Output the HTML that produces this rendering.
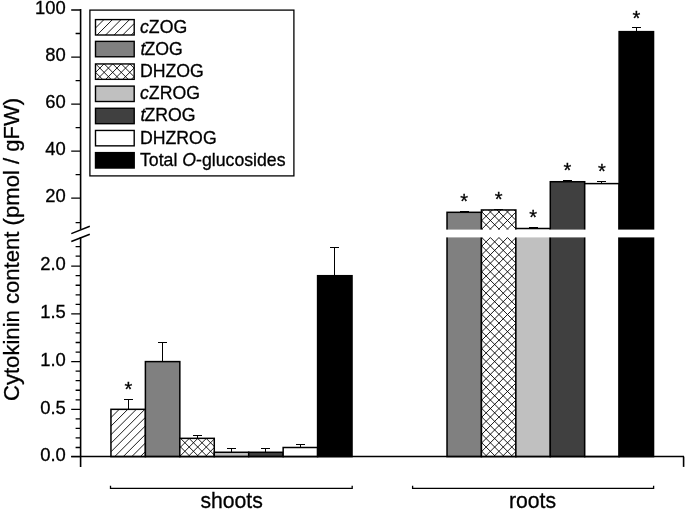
<!DOCTYPE html>
<html><head><meta charset="utf-8"><title>chart</title>
<style>html,body{margin:0;padding:0;background:#fff}svg{display:block;will-change:transform}text{font-family:"Liberation Sans",sans-serif;fill:#000;stroke:#000;stroke-width:0.3px}</style></head>
<body>
<svg width="685" height="510" viewBox="0 0 685 510">
<defs>
</defs>
<rect width="685" height="510" fill="#fff"/>
<path d="M128.50,409.32 V399.50 M124.00,399.50 H133.00" stroke="#000" stroke-width="1" fill="none"/>
<rect x="110.95" y="409.32" width="34.44" height="47.28" fill="#ffffff" stroke="none"/>
<clipPath id="c1"><rect x="110.95" y="409.32" width="34.44" height="47.28"/></clipPath>
<path d="M110.95,417.60 L145.39,383.16 M110.95,426.15 L145.39,391.71 M110.95,434.70 L145.39,400.26 M110.95,443.25 L145.39,408.81 M110.95,451.80 L145.39,417.36 M110.95,460.35 L145.39,425.91 M110.95,468.90 L145.39,434.46 M110.95,477.45 L145.39,443.01 M110.95,486.00 L145.39,451.56 " stroke="#000" stroke-width="0.9" fill="none" clip-path="url(#c1)"/>
<rect x="110.95" y="409.32" width="34.44" height="47.28" fill="none" stroke="#000" stroke-width="1.5"/>
<path d="M162.50,361.60 V342.50 M158.00,342.50 H167.00" stroke="#000" stroke-width="1" fill="none"/>
<rect x="145.39" y="361.60" width="34.44" height="95.00" fill="#808080" stroke="none"/>
<rect x="145.39" y="361.60" width="34.44" height="95.00" fill="none" stroke="#000" stroke-width="1.5"/>
<path d="M197.50,438.34 V435.50 M193.00,435.50 H202.00" stroke="#000" stroke-width="1" fill="none"/>
<rect x="179.83" y="438.34" width="34.44" height="18.26" fill="#ffffff" stroke="none"/>
<clipPath id="c2"><rect x="179.83" y="438.34" width="34.44" height="18.26"/></clipPath>
<path d="M179.83,439.26 L214.27,404.82 M179.83,447.81 L214.27,413.37 M179.83,456.36 L214.27,421.92 M179.83,464.91 L214.27,430.47 M179.83,473.46 L214.27,439.02 M179.83,482.01 L214.27,447.57 M179.83,490.56 L214.27,456.12 M179.83,454.77 L214.27,489.21 M179.83,446.22 L214.27,480.66 M179.83,437.67 L214.27,472.11 M179.83,429.12 L214.27,463.56 M179.83,420.57 L214.27,455.01 M179.83,412.02 L214.27,446.46 " stroke="#000" stroke-width="0.9" fill="none" clip-path="url(#c2)"/>
<rect x="179.83" y="438.34" width="34.44" height="18.26" fill="none" stroke="#000" stroke-width="1.5"/>
<path d="M231.50,452.28 V448.50 M227.00,448.50 H236.00" stroke="#000" stroke-width="1" fill="none"/>
<rect x="214.27" y="452.28" width="34.44" height="4.32" fill="#c0c0c0" stroke="none"/>
<rect x="214.27" y="452.28" width="34.44" height="4.32" fill="none" stroke="#000" stroke-width="1.5"/>
<path d="M265.50,452.28 V448.50 M261.00,448.50 H270.00" stroke="#000" stroke-width="1" fill="none"/>
<rect x="248.71" y="452.28" width="34.44" height="4.32" fill="#404040" stroke="none"/>
<rect x="248.71" y="452.28" width="34.44" height="4.32" fill="none" stroke="#000" stroke-width="1.5"/>
<path d="M300.50,447.50 V444.50 M296.00,444.50 H305.00" stroke="#000" stroke-width="1" fill="none"/>
<rect x="283.15" y="447.50" width="34.44" height="9.10" fill="#ffffff" stroke="none"/>
<rect x="283.15" y="447.50" width="34.44" height="9.10" fill="none" stroke="#000" stroke-width="1.5"/>
<path d="M334.50,275.70 V247.50 M330.00,247.50 H339.00" stroke="#000" stroke-width="1" fill="none"/>
<rect x="317.59" y="275.70" width="34.44" height="180.90" fill="#000000" stroke="none"/>
<rect x="317.59" y="275.70" width="34.44" height="180.90" fill="none" stroke="#000" stroke-width="1.5"/>
<path d="M464.50,212.31 V211.50 M460.00,211.50 H469.00" stroke="#000" stroke-width="1" fill="none"/>
<rect x="447.02" y="212.31" width="34.42" height="244.29" fill="#808080" stroke="none"/>
<rect x="447.02" y="212.31" width="34.42" height="244.29" fill="none" stroke="#000" stroke-width="1.5"/>
<path d="M498.50,209.96 V209.50 M494.00,209.50 H503.00" stroke="#000" stroke-width="1" fill="none"/>
<rect x="481.44" y="209.96" width="34.42" height="246.64" fill="#ffffff" stroke="none"/>
<clipPath id="c3"><rect x="481.44" y="209.96" width="34.42" height="246.64"/></clipPath>
<path d="M481.44,212.31 L515.86,177.89 M481.44,220.86 L515.86,186.44 M481.44,229.41 L515.86,194.99 M481.44,237.96 L515.86,203.54 M481.44,246.51 L515.86,212.09 M481.44,255.06 L515.86,220.64 M481.44,263.61 L515.86,229.19 M481.44,272.16 L515.86,237.74 M481.44,280.71 L515.86,246.29 M481.44,289.26 L515.86,254.84 M481.44,297.81 L515.86,263.39 M481.44,306.36 L515.86,271.94 M481.44,314.91 L515.86,280.49 M481.44,323.46 L515.86,289.04 M481.44,332.01 L515.86,297.59 M481.44,340.56 L515.86,306.14 M481.44,349.11 L515.86,314.69 M481.44,357.66 L515.86,323.24 M481.44,366.21 L515.86,331.79 M481.44,374.76 L515.86,340.34 M481.44,383.31 L515.86,348.89 M481.44,391.86 L515.86,357.44 M481.44,400.41 L515.86,365.99 M481.44,408.96 L515.86,374.54 M481.44,417.51 L515.86,383.09 M481.44,426.06 L515.86,391.64 M481.44,434.61 L515.86,400.19 M481.44,443.16 L515.86,408.74 M481.44,451.71 L515.86,417.29 M481.44,460.26 L515.86,425.84 M481.44,468.81 L515.86,434.39 M481.44,477.36 L515.86,442.94 M481.44,485.91 L515.86,451.49 M481.44,450.92 L515.86,485.34 M481.44,442.37 L515.86,476.79 M481.44,433.82 L515.86,468.24 M481.44,425.27 L515.86,459.69 M481.44,416.72 L515.86,451.14 M481.44,408.17 L515.86,442.59 M481.44,399.62 L515.86,434.04 M481.44,391.07 L515.86,425.49 M481.44,382.52 L515.86,416.94 M481.44,373.97 L515.86,408.39 M481.44,365.42 L515.86,399.84 M481.44,356.87 L515.86,391.29 M481.44,348.32 L515.86,382.74 M481.44,339.77 L515.86,374.19 M481.44,331.22 L515.86,365.64 M481.44,322.67 L515.86,357.09 M481.44,314.12 L515.86,348.54 M481.44,305.57 L515.86,339.99 M481.44,297.02 L515.86,331.44 M481.44,288.47 L515.86,322.89 M481.44,279.92 L515.86,314.34 M481.44,271.37 L515.86,305.79 M481.44,262.82 L515.86,297.24 M481.44,254.27 L515.86,288.69 M481.44,245.72 L515.86,280.14 M481.44,237.17 L515.86,271.59 M481.44,228.62 L515.86,263.04 M481.44,220.07 L515.86,254.49 M481.44,211.52 L515.86,245.94 M481.44,202.97 L515.86,237.39 M481.44,194.42 L515.86,228.84 M481.44,185.87 L515.86,220.29 M481.44,177.32 L515.86,211.74 " stroke="#000" stroke-width="0.9" fill="none" clip-path="url(#c3)"/>
<rect x="481.44" y="209.96" width="34.42" height="246.64" fill="none" stroke="#000" stroke-width="1.5"/>
<path d="M533.50,228.50 V227.50 M529.00,227.50 H538.00" stroke="#000" stroke-width="1" fill="none"/>
<rect x="515.86" y="228.50" width="34.42" height="228.10" fill="#c0c0c0" stroke="none"/>
<rect x="515.86" y="228.50" width="34.42" height="228.10" fill="none" stroke="#000" stroke-width="1.5"/>
<path d="M567.50,181.73 V180.50 M563.00,180.50 H572.00" stroke="#000" stroke-width="1" fill="none"/>
<rect x="550.28" y="181.73" width="34.42" height="274.87" fill="#404040" stroke="none"/>
<rect x="550.28" y="181.73" width="34.42" height="274.87" fill="none" stroke="#000" stroke-width="1.5"/>
<path d="M601.50,183.61 V181.50 M597.00,181.50 H606.00" stroke="#000" stroke-width="1" fill="none"/>
<rect x="584.70" y="183.61" width="34.42" height="272.99" fill="#ffffff" stroke="none"/>
<rect x="584.70" y="183.61" width="34.42" height="272.99" fill="none" stroke="#000" stroke-width="1.5"/>
<path d="M636.50,31.64 V27.50 M632.00,27.50 H641.00" stroke="#000" stroke-width="1" fill="none"/>
<rect x="619.12" y="31.64" width="34.42" height="424.96" fill="#000000" stroke="none"/>
<rect x="619.12" y="31.64" width="34.42" height="424.96" fill="none" stroke="#000" stroke-width="1.5"/>
<rect x="440" y="229.6" width="222" height="7.8" fill="#fff"/>
<path d="M80.6,9 V466.9" stroke="#000" stroke-width="1.6" fill="none"/>
<path d="M71.2,456.6 H684" stroke="#000" stroke-width="1.5" fill="none"/>
<path d="M683.6,456.6 V466.9" stroke="#000" stroke-width="1.6" fill="none"/>
<path d="M71.2,10.00 H80.6 M71.2,57.05 H80.6 M71.2,104.10 H80.6 M71.2,151.15 H80.6 M71.2,198.20 H80.6 M75.6,33.52 H80.6 M75.6,80.57 H80.6 M75.6,127.62 H80.6 M75.6,174.67 H80.6 M75.6,222.62 H80.6 M71.2,456.60 H80.6 M71.2,409.32 H80.6 M71.2,361.60 H80.6 M71.2,313.88 H80.6 M71.2,266.15 H80.6 M75.6,447.50 H80.6 M75.6,437.96 H80.6 M75.6,428.42 H80.6 M75.6,418.87 H80.6 M75.6,399.78 H80.6 M75.6,390.24 H80.6 M75.6,380.69 H80.6 M75.6,371.14 H80.6 M75.6,352.06 H80.6 M75.6,342.51 H80.6 M75.6,332.97 H80.6 M75.6,323.42 H80.6 M75.6,304.33 H80.6 M75.6,294.78 H80.6 M75.6,285.24 H80.6 M75.6,275.69 H80.6 M75.6,256.11 H80.6 M75.6,246.56 H80.6 " stroke="#000" stroke-width="1.3" fill="none"/>
<rect x="78.6" y="229.5" width="4" height="7.5" fill="#fff"/>
<path d="M71.3,233.6 L89.8,226.2 M71.3,241.5 L89.8,234.2" stroke="#000" stroke-width="1.5" fill="none"/>
<text x="65.8" y="14.25" font-size="18.4" text-anchor="end">100</text>
<text x="65.8" y="61.30" font-size="18.4" text-anchor="end">80</text>
<text x="65.8" y="108.35" font-size="18.4" text-anchor="end">60</text>
<text x="65.8" y="155.40" font-size="18.4" text-anchor="end">40</text>
<text x="65.8" y="202.45" font-size="18.4" text-anchor="end">20</text>
<text x="65.8" y="460.85" font-size="18.4" text-anchor="end">0.0</text>
<text x="65.8" y="413.57" font-size="18.4" text-anchor="end">0.5</text>
<text x="65.8" y="365.85" font-size="18.4" text-anchor="end">1.0</text>
<text x="65.8" y="318.12" font-size="18.4" text-anchor="end">1.5</text>
<text x="65.8" y="270.40" font-size="18.4" text-anchor="end">2.0</text>
<text transform="translate(18.5,249.4) rotate(-90)" font-size="22.1" text-anchor="middle">Cytokinin content (pmol / gFW)</text>
<path d="M110.5,485.7 V488.45 H352.2 V485.7 M412.6,485.7 V488.45 H653.6 V485.7" stroke="#000" stroke-width="1.3" fill="none"/>
<text x="231.6" y="508.1" font-size="21.2" text-anchor="middle">shoots</text>
<text x="532.5" y="508.1" font-size="21.2" text-anchor="middle">roots</text>
<text x="128.47" y="396.30" font-size="20" text-anchor="middle">*</text>
<text x="464.23" y="208.00" font-size="20" text-anchor="middle">*</text>
<text x="498.65" y="205.50" font-size="20" text-anchor="middle">*</text>
<text x="533.07" y="224.00" font-size="20" text-anchor="middle">*</text>
<text x="567.49" y="177.00" font-size="20" text-anchor="middle">*</text>
<text x="601.91" y="178.00" font-size="20" text-anchor="middle">*</text>
<text x="636.33" y="24.50" font-size="20" text-anchor="middle">*</text>
<rect x="89.9" y="10.1" width="204.0" height="165.8" fill="#fff" stroke="#000" stroke-width="1.3"/>
<rect x="95.5" y="19.60" width="38.7" height="15.4" fill="#ffffff" stroke="none"/>
<clipPath id="c4"><rect x="95.50" y="19.60" width="38.70" height="15.40"/></clipPath>
<path d="M95.50,28.00 L134.20,-10.70 M95.50,36.55 L134.20,-2.15 M95.50,45.10 L134.20,6.40 M95.50,53.65 L134.20,14.95 M95.50,62.20 L134.20,23.50 M95.50,70.75 L134.20,32.05 " stroke="#000" stroke-width="0.9" fill="none" clip-path="url(#c4)"/>
<rect x="95.5" y="19.60" width="38.7" height="15.4" fill="none" stroke="#000" stroke-width="1.4"/>
<text x="140" y="32.80" font-size="17.7"><tspan font-style="italic">c</tspan>ZOG</text>
<rect x="95.5" y="41.37" width="38.7" height="15.4" fill="#808080" stroke="none"/>
<rect x="95.5" y="41.37" width="38.7" height="15.4" fill="none" stroke="#000" stroke-width="1.4"/>
<text x="140" y="54.57" font-size="17.7"><tspan font-style="italic" dx="0.5">t</tspan><tspan dx="-0.9">ZOG</tspan></text>
<rect x="95.5" y="63.94" width="38.7" height="15.4" fill="#ffffff" stroke="none"/>
<clipPath id="c5"><rect x="95.50" y="63.94" width="38.70" height="15.40"/></clipPath>
<path d="M95.50,72.45 L134.20,33.75 M95.50,81.00 L134.20,42.30 M95.50,89.55 L134.20,50.85 M95.50,98.10 L134.20,59.40 M95.50,106.65 L134.20,67.95 M95.50,115.20 L134.20,76.50 M95.50,72.30 L134.20,111.00 M95.50,63.75 L134.20,102.45 M95.50,55.20 L134.20,93.90 M95.50,46.65 L134.20,85.35 M95.50,38.10 L134.20,76.80 M95.50,29.55 L134.20,68.25 " stroke="#000" stroke-width="0.9" fill="none" clip-path="url(#c5)"/>
<rect x="95.5" y="63.94" width="38.7" height="15.4" fill="none" stroke="#000" stroke-width="1.4"/>
<text x="140" y="77.14" font-size="17.7">DHZOG</text>
<rect x="95.5" y="86.11" width="38.7" height="15.4" fill="#c0c0c0" stroke="none"/>
<rect x="95.5" y="86.11" width="38.7" height="15.4" fill="none" stroke="#000" stroke-width="1.4"/>
<text x="140" y="99.31" font-size="17.7"><tspan font-style="italic">c</tspan>ZROG</text>
<rect x="95.5" y="108.28" width="38.7" height="15.4" fill="#404040" stroke="none"/>
<rect x="95.5" y="108.28" width="38.7" height="15.4" fill="none" stroke="#000" stroke-width="1.4"/>
<text x="140" y="121.48" font-size="17.7"><tspan font-style="italic" dx="0.5">t</tspan><tspan dx="-0.9">ZROG</tspan></text>
<rect x="95.5" y="130.45" width="38.7" height="15.4" fill="#ffffff" stroke="none"/>
<rect x="95.5" y="130.45" width="38.7" height="15.4" fill="none" stroke="#000" stroke-width="1.4"/>
<text x="140" y="143.65" font-size="17.7">DHZROG</text>
<rect x="95.5" y="152.62" width="38.7" height="15.4" fill="#000000" stroke="none"/>
<rect x="95.5" y="152.62" width="38.7" height="15.4" fill="none" stroke="#000" stroke-width="1.4"/>
<text x="140" y="165.82" font-size="17.7">Total <tspan font-style="italic">O</tspan>-glucosides</text>
</svg></body></html>
